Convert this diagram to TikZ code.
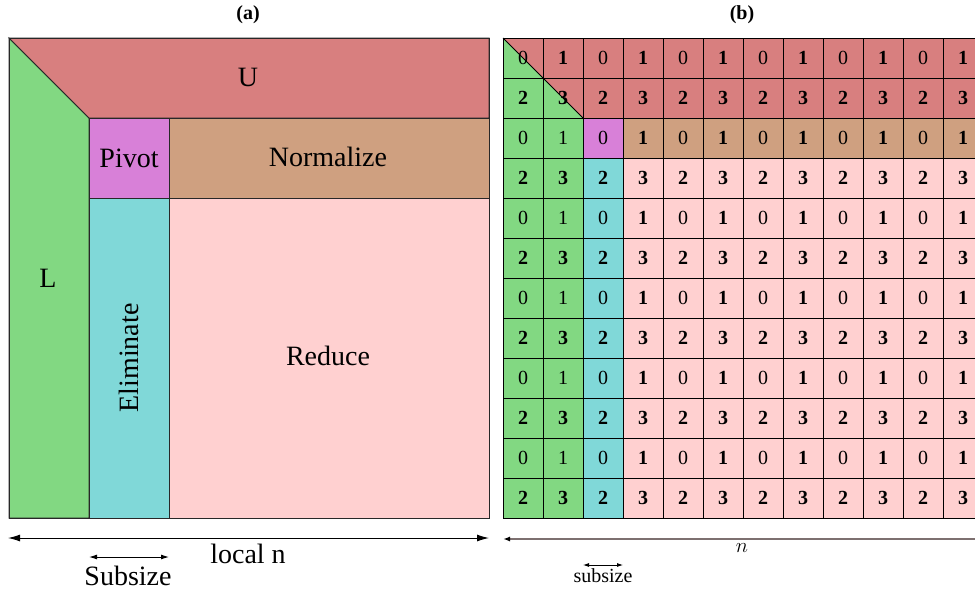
\documentclass[tikz,border=0pt]{standalone}
\usepackage{fontspec}
\setmainfont{Liberation Serif}
\usetikzlibrary{arrows.meta}
\definecolor{ucol}{RGB}{216,127,127}
\definecolor{lcol}{RGB}{130,216,130}
\definecolor{pivcol}{RGB}{216,128,216}
\definecolor{normcol}{RGB}{207,160,128}
\definecolor{elimcol}{RGB}{128,216,216}
\definecolor{redcol}{RGB}{255,208,208}
\definecolor{edgecol}{RGB}{40,40,40}
\definecolor{dimgray}{RGB}{125,112,112}
\tikzset{
  region/.style={draw=edgecol, line width=1pt},
  biglabel/.style={font=\fontsize{28}{30}\selectfont, inner sep=0pt},
  num/.style={font=\fontsize{20}{22}\selectfont, inner sep=0pt},
  title/.style={font=\fontsize{20}{22}\selectfont\bfseries, inner sep=0pt},
  dimline/.style={line width=1pt, {Latex[length=12pt,width=7pt]}-{Latex[length=12pt,width=7pt]}},
  subline/.style={line width=1pt, {Latex[length=8pt,width=5pt]}-{Latex[length=8pt,width=5pt]}},
  gridline/.style={draw=black, line width=0.9pt},
}
\begin{document}
\begin{tikzpicture}[x=1pt,y=-1pt]
\useasboundingbox (0,0) rectangle (975,590);
\fill[white] (0,0) rectangle (975,590);
\clip (0,0) rectangle (975,590);

% ---------- (a) block view ----------
\node[title] (ta) at (248,15) {(a)};
\filldraw[region, fill=lcol] (9,38) -- (89,118) -- (89,518) -- (9,518) -- cycle;
\filldraw[region, fill=ucol] (9,38) -- (489,38) -- (489,118) -- (89,118) -- cycle;
\filldraw[region, fill=pivcol] (89,118) rectangle (169,198);
\filldraw[region, fill=normcol] (169,118) rectangle (489,198);
\filldraw[region, fill=elimcol] (89,198) rectangle (169,518);
\filldraw[region, fill=redcol] (169,198) rectangle (489,518);
\draw[region, fill=none] (9,38) rectangle (489,518);

\node[biglabel] (lu) at (248,77) {U};
\node[biglabel] (ll) at (48,278) {L};
\node[biglabel] (lp) at (129,158) {Pivot};
\node[biglabel] (ln) at (328,157) {Normalize};
\node[biglabel, rotate=90] (le) at (129,358) {Eliminate};
\node[biglabel] (lr) at (328,356) {Reduce};

\coordinate (na-l) at (8,538);
\coordinate (na-r) at (489,538);
\draw[dimline] (na-l) -- (na-r);
\node[biglabel, anchor=base] (tlocal) at (248,563) {local n};
\coordinate (sa-l) at (89,557);
\coordinate (sa-r) at (169,557);
\draw[subline] (sa-l) -- (sa-r);
\node[biglabel, anchor=base] (tsub) at (128,585) {Subsize};

% ---------- (b) element view ----------
\node[title] (tb) at (742,15) {(b)};
\fill[lcol] (503,38) -- (583,118) -- (583,518) -- (503,518) -- cycle;
\fill[ucol] (503,38) -- (983,38) -- (983,118) -- (583,118) -- cycle;
\fill[pivcol] (583,118) rectangle (623,158);
\fill[normcol] (623,118) rectangle (983,158);
\fill[elimcol] (583,158) rectangle (623,518);
\fill[redcol] (623,158) rectangle (983,518);
\foreach \i in {0,...,12}{
  \draw[gridline] ({503+40*\i},38) -- ({503+40*\i},518);
  \draw[gridline] (503,{38+40*\i}) -- (983,{38+40*\i});
}
\draw[gridline] (503,38) -- (583,118);

\foreach \r in {0,...,11}{
  \foreach \c in {0,...,11}{
    \ifodd\r
      \ifodd\c \def\cellval{\bfseries 3}\else \def\cellval{\bfseries 2}\fi
    \else
      \ifodd\c
        \ifnum\r>0 \ifnum\c=1 \def\cellval{1}\else \def\cellval{\bfseries 1}\fi
        \else \def\cellval{\bfseries 1}\fi
      \else \def\cellval{0}\fi
    \fi
    \node[num] (g-\r-\c) at ({523+40*\c},{58+40*\r}) {\cellval};
  }
}

\coordinate (nb-l) at (503,539);
\coordinate (nb-r) at (990,539);
\draw[line width=2pt, dimgray, {Latex[color=black,length=7pt,width=5pt]}-] (nb-l) -- (nb-r);
\node[font=\fontsize{20}{22}\selectfont, inner sep=0pt, anchor=base] (tn) at (742,552) {$n$};
\coordinate (sb-l) at (583,565);
\coordinate (sb-r) at (623,565);
\draw[line width=0.8pt, {Latex[length=6pt,width=4pt]}-{Latex[length=6pt,width=4pt]}] (sb-l) -- (sb-r);
\node[font=\fontsize{20}{22}\selectfont, inner sep=0pt, anchor=base] (tsb) at (603,582) {subsize};
\end{tikzpicture}
\end{document}
